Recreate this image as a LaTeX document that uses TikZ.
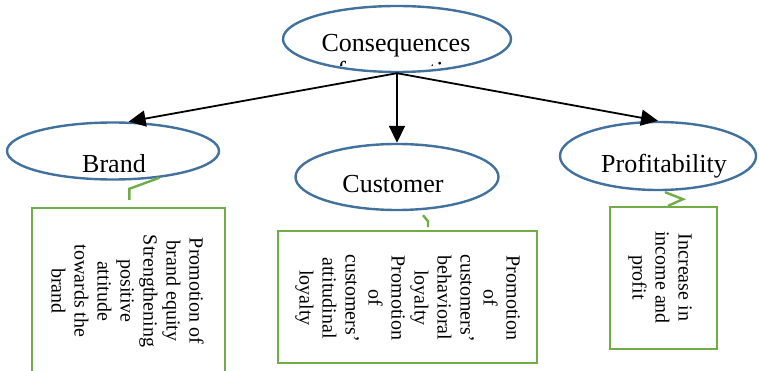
\documentclass[tikz,border=0pt]{standalone}
\usepackage{fontspec}
\setmainfont{Liberation Serif}
\usetikzlibrary{shapes.geometric,arrows.meta,calc}
\definecolor{ovalblue}{RGB}{65,113,156}
\definecolor{leafgreen}{RGB}{112,173,71}
\tikzset{
  oval/.style={ellipse, draw=ovalblue, line width=2.4pt, inner sep=0pt},
  ovaltext/.style={font=\fontsize{26}{30}\selectfont, inner sep=0pt, anchor=base},
  leafbox/.style={rectangle, draw=leafgreen, line width=2.4pt, inner sep=0pt},
  leaftext/.style={font=\fontsize{20}{23}\selectfont, align=center, rotate=-90, inner sep=0pt},
  branch/.style={line width=1.8pt, -{Triangle[length=17pt,width=16pt]}},
  stub/.style={draw=leafgreen, line width=2.4pt},
}
\begin{document}
\begin{tikzpicture}[x=1pt,y=-1pt]
\clip (0,0) rectangle (759,371);

% root oval; its second line is cut off by the text frame
\node[oval, minimum width=228pt, minimum height=66pt] (top) at (397,39) {};
\node[ovaltext] (toptext) at (396,52) {Consequences};
\begin{scope}
  \clip (285,40) rectangle (510,66);
  \node[ovaltext] (topsub) at (397,80) {of co-creation};
\end{scope}

% the three consequence ovals
\node[oval, minimum width=212pt, minimum height=57pt] (brand) at (113,151) {};
\node[ovaltext] (brandtext) at (114,173) {Brand};
\node[oval, minimum width=203pt, minimum height=66pt] (customer) at (397,177) {};
\node[ovaltext] (customertext) at (393,193) {Customer};
\node[oval, minimum width=196pt, minimum height=68pt] (profit) at (658,156) {};
\node[ovaltext] (profittext) at (664,173) {Profitability};

% branches
\draw[branch] (top.south) -- (brand.62);
\draw[branch] (top.south) -- (customer.north);
\draw[branch] (top.south) -- (profit.north);

% detail boxes
\node[leafbox, minimum width=193pt, minimum height=172pt] (brandbox) at (128.5,294) {};
\node[leaftext] (brandlist) at (127.5,291)
  {Promotion of\\brand equity\\Strengthening\\positive\\attitude\\towards the\\brand};
\node[leafbox, minimum width=259pt, minimum height=132pt] (custbox) at (407.5,297) {};
\node[leaftext] (custlist) at (407.5,298)
  {Promotion\\of\\customers’\\behavioral\\loyalty\\Promotion\\of\\customers’\\attitudinal\\loyalty};
\node[leafbox, minimum width=107pt, minimum height=142pt] (profitbox) at (663.5,278) {};
\node[leaftext] (profitlist) at (660,277.5) {Increase in\\income and\\profit};

% green connector stubs
\draw[stub] (brand.-30) -- ++(-30,11) -- ++(0,11);
\draw[stub] ($(customer.south)+(26,4)$) -- ++(5,6) -- ++(0,6);
\draw[stub] ($(profit.south)+(7,1)$) -- ++(18,7) -- ($(profitbox.north)+(4.5,0)$);
\end{tikzpicture}
\end{document}
